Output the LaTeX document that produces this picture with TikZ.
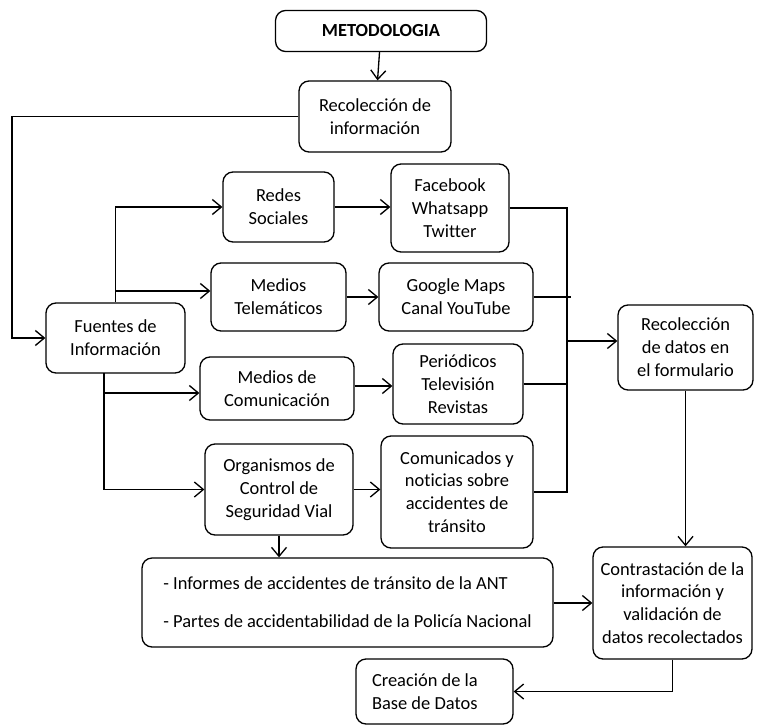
\documentclass[tikz,border=0pt]{standalone}
\usepackage{fontspec}
\setmainfont{Carlito}[Ligatures=NoCommon]
\usetikzlibrary{arrows.meta,positioning,calc}
\tikzset{
  boxnd/.style={draw, rounded corners=0.2cm, line width=0.75pt, align=center,
    inner sep=2pt, font=\fontsize{10.5}{13}\selectfont},
  arrln/.style={-{Straight Barb[length=1.8mm,width=3mm]}, line width=0.75pt},
  lineln/.style={line width=0.75pt},
}
\begin{document}
\begin{tikzpicture}[x=0.02cm, y=-0.02cm]
    \useasboundingbox (0,0) rectangle (767,726);
    % top
    \node[boxnd, minimum width=4.22cm, minimum height=0.82cm, font=\fontsize{10.5}{13}\selectfont\bfseries]
      (meto) at (381,31) {METODOLOGIA};
    \node[boxnd, minimum width=3.04cm, minimum height=1.42cm] (recol) at (375,116.5)
      {Recolección de\\información};
    \node[boxnd, minimum width=2.78cm, minimum height=1.40cm] (fuentes) at (115.5,338)
      {Fuentes de\\Información};
    % middle column
    \node[boxnd, minimum width=2.22cm, minimum height=1.40cm] (redes) at (278.5,207)
      {Redes\\Sociales};
    \node[boxnd, minimum width=2.70cm, minimum height=1.36cm] (tele) at (278.5,297)
      {Medios\\Telemáticos};
    \node[boxnd, minimum width=3.08cm, minimum height=1.26cm] (comu) at (277,388.5)
      {Medios de\\Comunicación};
    \node[boxnd, minimum width=2.96cm, minimum height=1.82cm] (org) at (279,489.5)
      {Organismos de\\Control de\\Seguridad Vial};
    % right column
    \node[boxnd, minimum width=2.36cm, minimum height=1.76cm] (fb) at (450,208)
      {Facebook\\Whatsapp\\Twitter};
    \node[boxnd, minimum width=3.08cm, minimum height=1.36cm] (gm) at (456,297)
      {Google Maps\\Canal YouTube};
    \node[boxnd, minimum width=2.60cm, minimum height=1.60cm] (per) at (458,384)
      {Periódicos\\Televisión\\Revistas};
    \node[boxnd, minimum width=3.04cm, minimum height=2.24cm] (com) at (457,492)
      {Comunicados y\\noticias sobre\\accidentes de\\tránsito};
    \node[boxnd, minimum width=2.70cm, minimum height=1.70cm] (form) at (685.5,347.5)
      {Recolección\\de datos en\\el formulario};
    % bottom
    \node[boxnd, align=left, minimum width=8.22cm, minimum height=1.78cm]
      (inf) at (347.5,602.5)
      {- Informes de accidentes de tránsito de la ANT\\[0.3cm]
       - Partes de accidentabilidad de la Policía Nacional};
    \node[boxnd, minimum width=3.18cm, minimum height=2.24cm] (cont) at (672.5,603)
      {Contrastación de la\\información y\\validación de\\datos recolectados};
    \node[boxnd, inner xsep=0.32cm, text width=2.5cm, align=flush left, minimum height=1.30cm]
      (crea) at (434.5,691.5) {Creación de la\\Base de Datos};
    % connectors
    \coordinate (lft) at (12,116.5);
    \coordinate (up) at (115.5,291);
    \coordinate (fs) at (104,373);
    \coordinate (bus) at (567,341);
    \draw[arrln] (meto) -- (recol);
    \draw[arrln] (recol.west) -- (lft) |- (fuentes.west);
    \draw[arrln] (fuentes.north) |- (redes.west);
    \draw[arrln] (up) -- (up -| tele.west);
    \draw[arrln] (fs) |- (org.west);
    \draw[arrln] (fs |- 0,393) -- (comu.west |- 0,393);
    \draw[arrln] (redes.east) -- (redes.east -| fb.west);
    \draw[arrln] (tele.east) -- (tele.east -| gm.west);
    \draw[arrln] (comu.east |- 0,386) -- (per.west |- 0,386);
    \draw[arrln] (org.east) -- (org.east -| com.west);
    \draw[lineln] (fb.east) -| (bus |- com.east) -- (com.east);
    \draw[lineln] (gm.east) -- ([xshift=2pt]gm.east -| bus);
    \draw[lineln] (per.east) -- (per.east -| bus);
    \draw[arrln] (bus) -- (bus -| form.west);
    \draw[arrln] (form.south) -- (form.south |- cont.north);
    \draw[arrln] (org.south) -- (org.south |- inf.north);
    \draw[arrln] (inf.east |- cont.west) -- (cont.west);
    \draw[arrln] (cont.south) |- (crea.east);
\end{tikzpicture}
\end{document}
